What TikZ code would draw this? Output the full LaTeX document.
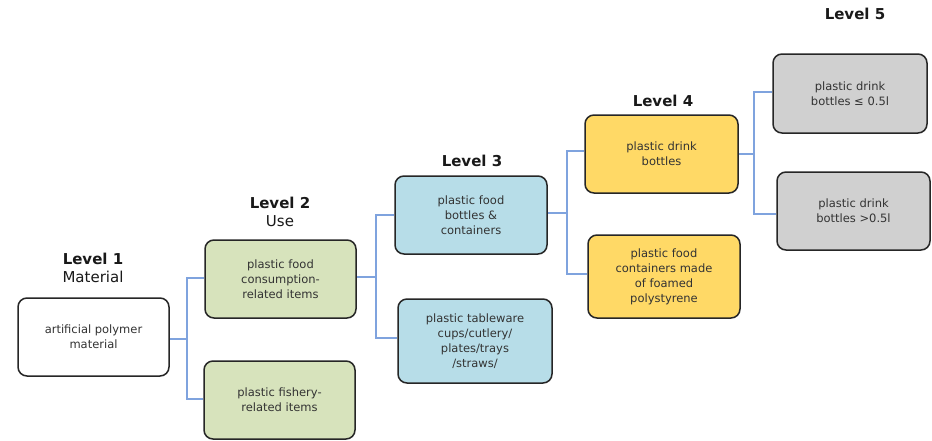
\documentclass[tikz,border=0pt]{standalone}
\usepackage{fontspec}
\setmainfont{DejaVu Sans}
\begin{document}
\begin{tikzpicture}[x=1pt,y=-1pt,
  box/.style={draw=black!85, line width=1.5pt, rounded corners=9pt, align=center,
    font=\fontsize{11.5}{15}\selectfont, text=black!80, inner sep=0pt},
  lvl/.style={align=center, font=\fontsize{15}{18}\selectfont, text=black!90}]
\useasboundingbox (0,0) rectangle (932,440);
\fill[white] (0,0) rectangle (932,440);
\definecolor{cgreen}{HTML}{D7E3BC}
\definecolor{cblue}{HTML}{B7DDE8}
\definecolor{cyellow}{HTML}{FFD966}
\definecolor{cgray}{HTML}{D0D0D0}
\definecolor{clink}{HTML}{7FA3DE}
\tikzset{link/.style={draw=clink, line width=1.1pt}}
% boxes
\node[box, fill=white, minimum width=151pt, minimum height=78pt] (a) at (93.5,337) {artificial polymer\\material};
\node[box, fill=cgreen, minimum width=151pt, minimum height=78pt] (b1) at (280.5,279) {plastic food\\consumption-\\related items};
\node[box, fill=cgreen, minimum width=151pt, minimum height=78pt] (b2) at (279.5,400) {plastic fishery-\\related items};
\node[box, fill=cblue, minimum width=152pt, minimum height=78pt] (c1) at (471,215) {plastic food\\bottles \&\\containers};
\node[box, fill=cblue, minimum width=154pt, minimum height=84pt] (c2) at (475,341) {plastic tableware\\cups/cutlery/\\plates/trays\\/straws/};
\node[box, fill=cyellow, minimum width=153pt, minimum height=78pt] (d1) at (661.5,154) {plastic drink\\bottles};
\node[box, fill=cyellow, minimum width=152pt, minimum height=83pt] (d2) at (664,276.5) {plastic food\\containers made\\of foamed\\polystyrene};
\node[box, fill=cgray, minimum width=154pt, minimum height=79pt] (e1) at (850,93.5) {plastic drink\\bottles ≤ 0.5l};
\node[box, fill=cgray, minimum width=153pt, minimum height=78pt] (e2) at (853.5,211) {plastic drink\\bottles >0.5l};
% level labels
\node[lvl] (l1) at (93,268) {\textbf{Level 1}\\Material};
\node[lvl] (l2) at (280,212) {\textbf{Level 2}\\Use};
\node[lvl] (l3) at (472,161) {\textbf{Level 3}};
\node[lvl] (l4) at (663,101) {\textbf{Level 4}};
\node[lvl] (l5) at (855,14) {\textbf{Level 5}};
% connectors
\coordinate (j1) at (187,339);
\coordinate (j2) at (376,277);
\coordinate (j3) at (567,213);
\coordinate (j4) at (754,154);
\draw[link] (a.east |- j1) -- (j1);
\draw[link] (b1.west |- 0,278) -| (j1) |- (b2.west |- 0,399);
\draw[link] (b1.east |- j2) -- (j2);
\draw[link] (c1.west |- 0,215) -| (j2) |- (c2.west |- 0,338);
\draw[link] (c1.east |- j3) -- (j3);
\draw[link] (d1.west |- 0,151) -| (j3) |- (d2.west |- 0,274);
\draw[link] (d1.east |- j4) -- (j4);
\draw[link] (e1.west |- 0,92) -| (j4) |- (e2.west |- 0,214);
\end{tikzpicture}
\end{document}
